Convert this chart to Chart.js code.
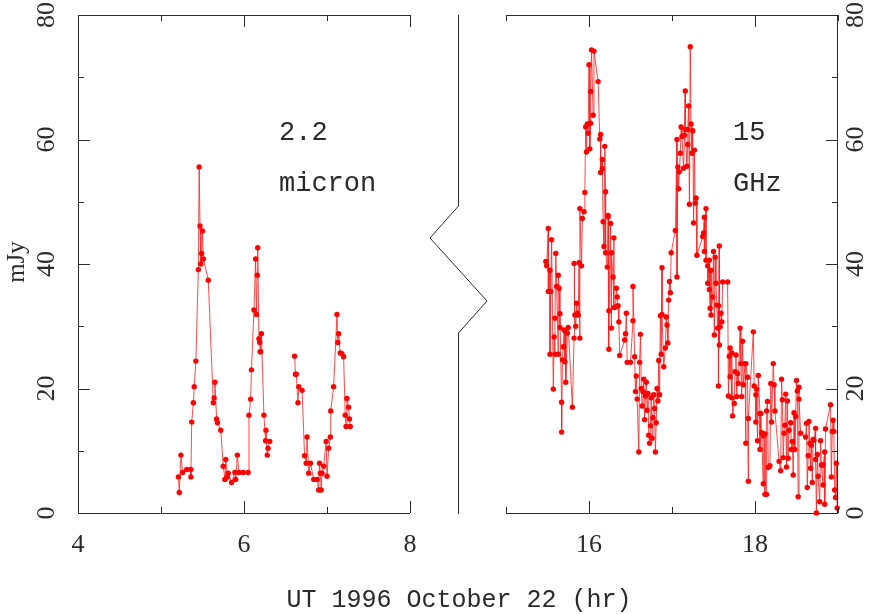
<!DOCTYPE html>
<html>
<head>
<meta charset="utf-8">
<script src="https://cdn.jsdelivr.net/npm/chart.js@4.4.0/dist/chart.umd.min.js"></script>
<style>
body { margin: 0; background: #fff; }
#wrap { position: relative; width: 872px; height: 614px; }
#wrap canvas { position: absolute; left: 0; top: 0; }
</style>
</head>
<body>
<div id="wrap">
  <canvas id="leftChart" width="872" height="614"></canvas>
  <canvas id="rightChart" width="872" height="614"></canvas>
</div>
<script>
// 2.2 micron (left panel), null = gap in the record
var irTime = [5.21, 5.22, 5.24, 5.26, 5.31, 5.36, 5.36, 5.37, 5.39, 5.40, 5.42, 5.45, 5.46, 5.47, 5.48, 5.49, 5.50, 5.51, 5.57,
  5.63, 5.64, 5.65, 5.67, 5.68, 5.72, 5.75, 5.77, 5.78, 5.80, 5.81, 5.85, 5.89, 5.90, 5.92, 5.94, 5.99, 6.05,
  6.06, 6.08, 6.09, 6.12, 6.14, 6.15, 6.16, 6.165, 6.18, 6.19, 6.195, 6.20, 6.21, 6.24, 6.26, 6.265, 6.28, 6.29, 6.31,
  6.45,
  6.61, 6.62, 6.63, 6.65, 6.66, 6.70, 6.73, 6.75, 6.76, 6.78, 6.80, 6.84, 6.88, 6.90, 6.91, 6.92, 6.93, 6.94, 6.96, 6.99,
  7.00, 7.02, 7.04, 7.045, 7.08, 7.12, 7.13, 7.14, 7.16, 7.18, 7.20, 7.22, 7.23, 7.24, 7.26, 7.27, 7.28];
var irFlux = [5.8, 3.3, 9.3, 6.5, 7.0, 7.0, 5.8, 14.6, 17.7, 20.3, 24.4, 39.1, 55.6, 46.1, 40.0, 41.7, 45.3, 40.8, 37.4,
  17.7, 18.5, 21.0, 15.1, 14.5, 13.3, 7.5, 5.4, 8.6, 5.8, 6.4, 4.9, 6.5, 5.4, 9.3, 6.5, 6.5, 6.5,
  15.7, 18.3, 23.0, 32.6, 40.8, 31.9, 38.2, 42.6, 28.0, 27.4, 25.9, 25.9, 28.8, 15.7, 11.6, 13.3, 9.3, 10.4, 11.5,
  null,
  25.2, 22.3, 22.3, 17.7, 20.3, 19.7, 9.2, 8.0, 12.2, 6.4, 8.0, 5.4, 5.4, 3.7, 8.0, 6.4, 3.7, 6.4, 7.5, 11.5,
  5.9, 10.4, 12.2, 16.4, 20.3, 31.9, 27.4, 28.8, 25.7, 25.6, 25.1, 15.7, 13.9, 18.4, 17.0, 15.1, 13.9];

// 15 GHz (right panel)
var radioTime = [15.48, 15.49, 15.51, 15.51, 15.53, 15.53, 15.54, 15.55, 15.57, 15.58, 15.59, 15.59, 15.60, 15.61, 15.63, 15.63,
  15.64, 15.65, 15.65, 15.67, 15.67, 15.68, 15.69, 15.70, 15.71, 15.72, 15.72, 15.74, 15.75, 15.80, 15.82, 15.82, 15.83,
  15.84, 15.85, 15.86, 15.87, 15.88, 15.89, 15.89, 15.91, 15.92, 15.94, 15.95, 15.96, 15.97, 15.98, 15.99, 16.00, 16.01,
  16.02, 16.02, 16.03, 16.05, 16.06, 16.11, 16.13, 16.14, 16.14, 16.16, 16.16, 16.17, 16.18, 16.19, 16.20, 16.20, 16.22,
  16.23, 16.23, 16.24, 16.24, 16.26, 16.27, 16.27, 16.29, 16.30, 16.30, 16.32, 16.33, 16.34, 16.35, 16.36, 16.37, 16.43,
  16.44, 16.45, 16.46, 16.50, 16.53, 16.53, 16.55, 16.56, 16.57, 16.58, 16.60, 16.61, 16.62, 16.63, 16.64, 16.65, 16.66,
  16.67, 16.68, 16.69, 16.70, 16.71, 16.72, 16.73, 16.74, 16.75, 16.76, 16.77, 16.78, 16.79, 16.80, 16.81, 16.82, 16.83,
  16.84, 16.85, 16.86, 16.87, 16.88, 16.88, 16.90, 16.92, 16.93, 16.94, 16.95, 16.96, 16.97, 16.98, 16.99, 17.04, 17.06,
  17.06, 17.07, 17.08, 17.09, 17.10, 17.11, 17.12, 17.14, 17.15, 17.16, 17.16, 17.18, 17.19, 17.19, 17.20, 17.21, 17.22,
  17.23, 17.24, 17.25, 17.26, 17.27, 17.28, 17.29, 17.30, 17.37, 17.38, 17.39, 17.39, 17.41, 17.41, 17.43, 17.43, 17.45,
  17.45, 17.46, 17.47, 17.47, 17.49, 17.50, 17.51, 17.52, 17.53, 17.54, 17.55, 17.56, 17.56, 17.57, 17.57, 17.58, 17.59,
  17.60, 17.61, 17.67, 17.68, 17.69, 17.70, 17.70, 17.72, 17.72, 17.73, 17.75, 17.76, 17.77, 17.78, 17.79, 17.80, 17.82,
  17.83, 17.84, 17.85, 17.86, 17.88, 17.89, 17.89, 17.91, 17.92, 17.92, 17.98, 17.99, 18.01, 18.01, 18.02, 18.03, 18.04,
  18.06, 18.06, 18.07, 18.08, 18.10, 18.10, 18.12, 18.12, 18.14, 18.14, 18.15, 18.16, 18.18, 18.19, 18.20, 18.22, 18.23,
  18.24, 18.29, 18.31, 18.32, 18.33, 18.34, 18.35, 18.36, 18.37, 18.38, 18.39, 18.40, 18.41, 18.43, 18.44, 18.45, 18.46,
  18.47, 18.48, 18.49, 18.50, 18.51, 18.52, 18.53, 18.53, 18.55, 18.61, 18.62, 18.63, 18.64, 18.65, 18.66, 18.67, 18.68,
  18.69, 18.70, 18.71, 18.73, 18.73, 18.74, 18.75, 18.76, 18.78, 18.79, 18.80, 18.82, 18.82, 18.84, 18.84, 18.85, 18.91,
  18.92, 18.93, 18.94, 18.95, 18.96, 18.97, 18.98, 18.99];
var radioFlux = [40.4, 39.7, 45.7, 35.6, 39.0, 25.5, 35.6, 43.9, 19.9, 28.3, 25.5, 31.3, 41.7, 36.4, 25.5, 38.2,
  36.1, 29.8, 32.0, 17.8, 13.0, 24.6, 26.7, 29.4, 24.3, 29.1, 21.0, 28.9, 29.8, 17.0, 28.1, 40.1, 31.8,
  30.0, 33.7, 32.1, 31.8, 40.2, 28.1, 48.9, 39.7, 47.3, 48.4, 51.5, 62.0, 58.0, 62.5, 61.0, 72.0, 58.5,
  62.6, 67.7, 74.4, 63.9, 74.2, 69.3, 60.1, 60.8, 54.7, 56.8, 55.3, 46.8, 42.8, 58.9, 51.6, 41.8, 39.5,
  47.8, 47.6, 32.5, 26.3, 46.5, 29.7, 41.8, 37.9, 44.2, 33.0, 33.1, 36.1, 34.7, 33.3, 30.7, 25.3, 27.8,
  28.8, 32.1, 24.2, 24.2, 30.9, 36.4, 25.1, 19.5, 22.0, 18.3, 9.8, 24.2, 28.7, 20.0, 17.2, 19.5, 21.5,
  15.0, 18.8, 21.0, 16.5, 19.2, 12.5, 11.2, 14.0, 18.5, 12.0, 15.3, 19.0, 16.8, 9.8, 14.5, 20.0, 18.0,
  24.5, 19.0, 31.7, 25.5, 39.4, 31.9, 23.5, 26.5, 31.5, 30.2, 27.3, 34.2, 37.2, 35.4, 41.8, 45.4, 60.0,
  37.9, 55.6, 52.1, 54.8, 57.8, 62.0, 60.5, 55.4, 60.7, 67.8, 61.6, 55.7, 59.2, 61.6, 65.4, 49.6, 74.9,
  62.5, 57.8, 61.4, 46.6, 58.3, 49.8, 50.6, 41.4, 44.4, 45.0, 47.5, 42.0, 48.9, 40.6, 39.7, 36.9, 40.6,
  35.9, 32.9, 39.0, 31.8, 34.7, 42.0, 28.6, 41.1, 36.9, 33.4, 29.7, 33.3, 20.4, 42.9, 27.0, 29.9, 32.1,
  30.7, 37.1, 37.1, 18.8, 25.2, 21.9, 26.5, 18.5, 25.7, 15.6, 17.6, 22.7, 25.4, 18.7, 22.4, 20.8, 29.7,
  24.0, 18.7, 27.6, 20.6, 24.0, 11.2, 24.0, 21.8, 5.1, 15.2, 29.1, 20.4, 19.0, 14.6, 19.9, 11.6, 22.1,
  16.0, 10.2, 16.0, 12.9, 4.7, 12.4, 12.7, 3.0, 3.0, 16.4, 17.9, 7.3, 7.6, 20.8, 14.6, 24.0, 20.6,
  16.4, 8.3, 6.8, 21.5, 18.2, 8.9, 12.8, 14.1, 19.1, 7.4, 18.0, 8.8, 13.3, 14.5, 10.2, 11.5, 6.1,
  16.1, 10.2, 15.5, 21.3, 19.6, 2.6, 20.2, 18.3, 12.8, 12.2, 14.4, 4.1, 9.2, 14.7, 11.2, 7.2, 10.9,
  4.9, 11.8, 11.7, 13.6, 8.6, 0.0, 9.4, 5.9, 1.8, 11.6, 7.7, 4.5, 7.7, 9.8, 1.4, 13.5, 17.4,
  5.8, 13.1, 14.9, 13.1, 3.7, 2.5, 8.0, 0.8];

var yTicks = [0, 20, 40, 60, 80];
var irXTicks = [4, 6, 8];
var radioXTicks = [16, 18];
var panelLabels = [["2.2", "micron"], ["15", "GHz"]];
var yTitle = "mJy";
var xTitle = "UT 1996 October 22 (hr)";

var ink = "#2a2a2a";
var numFont = '26px "Liberation Serif"';
var textFont = '27px "Liberation Mono"';

function toPoints(times, fluxes){
    var pts = [];
    for (var i = 0; i < times.length; i++) {
        pts.push({x: times[i], y: fluxes[i]});
    }
    return pts;
}

function line(ctx, x1, y1, x2, y2){
    ctx.beginPath();
    ctx.moveTo(x1, y1);
    ctx.lineTo(x2, y2);
    ctx.stroke();
}

// frame, inward ticks and labels for one panel
function framePlugin(axisSide, xLabels, label, extra){
    return {
        id: 'frame',
        afterDraw: function(chart){
            var ctx = chart.ctx;
            var a = chart.chartArea;
            var xs = chart.scales.x, ys = chart.scales.y;
            ctx.save();
            ctx.strokeStyle = ink;
            ctx.lineWidth = 1;
            line(ctx, a.left, a.top + 0.5, a.right, a.top + 0.5);
            line(ctx, a.left, a.bottom + 0.5, a.right, a.bottom + 0.5);
            var axX = axisSide == 'left' ? a.left + 0.5 : a.right - 0.5;
            line(ctx, axX, a.top, axX, a.bottom + 1);

            for (var v = Math.ceil(xs.min); v <= xs.max; v++) {
                var px = Math.round(xs.getPixelForValue(v)) + 0.5;
                var len = v % 2 == 0 ? 12 : 6;
                line(ctx, px, a.bottom, px, a.bottom - len);
                line(ctx, px, a.top, px, a.top + len);
            }
            for (var w = ys.min; w <= ys.max; w += 10) {
                var py = Math.round(ys.getPixelForValue(w)) + 0.5;
                var l = w % 20 == 0 ? 12 : 6;
                if (axisSide == 'left') line(ctx, a.left, py, a.left + l, py);
                else line(ctx, a.right, py, a.right - l, py);
            }

            ctx.fillStyle = ink;
            ctx.font = numFont;
            ctx.textAlign = 'center';
            ctx.textBaseline = 'middle';
            for (var t of xLabels) {
                ctx.fillText(String(t), xs.getPixelForValue(t), 545);
            }
            var lx = axisSide == 'left' ? 47 : 856;
            for (var k of yTicks) {
                ctx.save();
                ctx.translate(lx, ys.getPixelForValue(k));
                ctx.rotate(-Math.PI / 2);
                ctx.fillText(String(k), 0, 0);
                ctx.restore();
            }

            ctx.font = textFont;
            ctx.textAlign = 'left';
            ctx.textBaseline = 'alphabetic';
            ctx.fillText(label[0], label[2], 140);
            ctx.fillText(label[1], label[2], 191);

            if (extra) extra(ctx, a);
            ctx.restore();
        }
    };
}

function makeChart(id, times, fluxes, xmin, xmax, padding, plugin){
    var ctx = document.getElementById(id).getContext('2d');
    return new Chart(ctx, {
        type: 'line',
        data: {
            datasets: [{
                data: toPoints(times, fluxes),
                borderColor: 'rgba(255,30,30,0.8)',
                borderWidth: 1,
                pointBackgroundColor: '#ff0000',
                pointBorderColor: '#ff0000',
                pointRadius: 2.7,
                pointBorderWidth: 0,
                spanGaps: false,
                tension: 0,
                clip: 6
            }]
        },
        options: {
            responsive: false,
            animation: false,
            devicePixelRatio: 1,
            layout: { padding: padding, autoPadding: false },
            plugins: { legend: { display: false }, tooltip: { enabled: false } },
            scales: {
                x: { type: 'linear', min: xmin, max: xmax, display: false },
                y: { min: 0, max: 80, display: false }
            }
        },
        plugins: [plugin]
    });
}

var leftExtra = function(ctx, a){
    // y title, x title and the axis break
    ctx.font = '25px "Liberation Serif"';
    ctx.textAlign = 'center';
    ctx.textBaseline = 'middle';
    ctx.save();
    ctx.translate(17, 262);
    ctx.rotate(-Math.PI / 2);
    ctx.fillText(yTitle, 0, 0);
    ctx.restore();
    ctx.font = '25px "Liberation Mono"';
    ctx.fillText(xTitle, 459, 600);

    ctx.beginPath();
    ctx.moveTo(458.5, a.top);
    ctx.lineTo(458.5, 206);
    ctx.lineTo(430, 238);
    ctx.lineTo(487, 301);
    ctx.lineTo(458.5, 333);
    ctx.lineTo(458.5, a.bottom + 1);
    ctx.stroke();
};

makeChart('leftChart', irTime, irFlux, 4, 8,
    {left: 78, right: 462, top: 15, bottom: 101},
    framePlugin('left', irXTicks, panelLabels[0].concat([279]), leftExtra));
makeChart('rightChart', radioTime, radioFlux, 15, 19,
    {left: 506, right: 34, top: 15, bottom: 101},
    framePlugin('right', radioXTicks, panelLabels[1].concat([733]), null));
</script>
</body>
</html>
